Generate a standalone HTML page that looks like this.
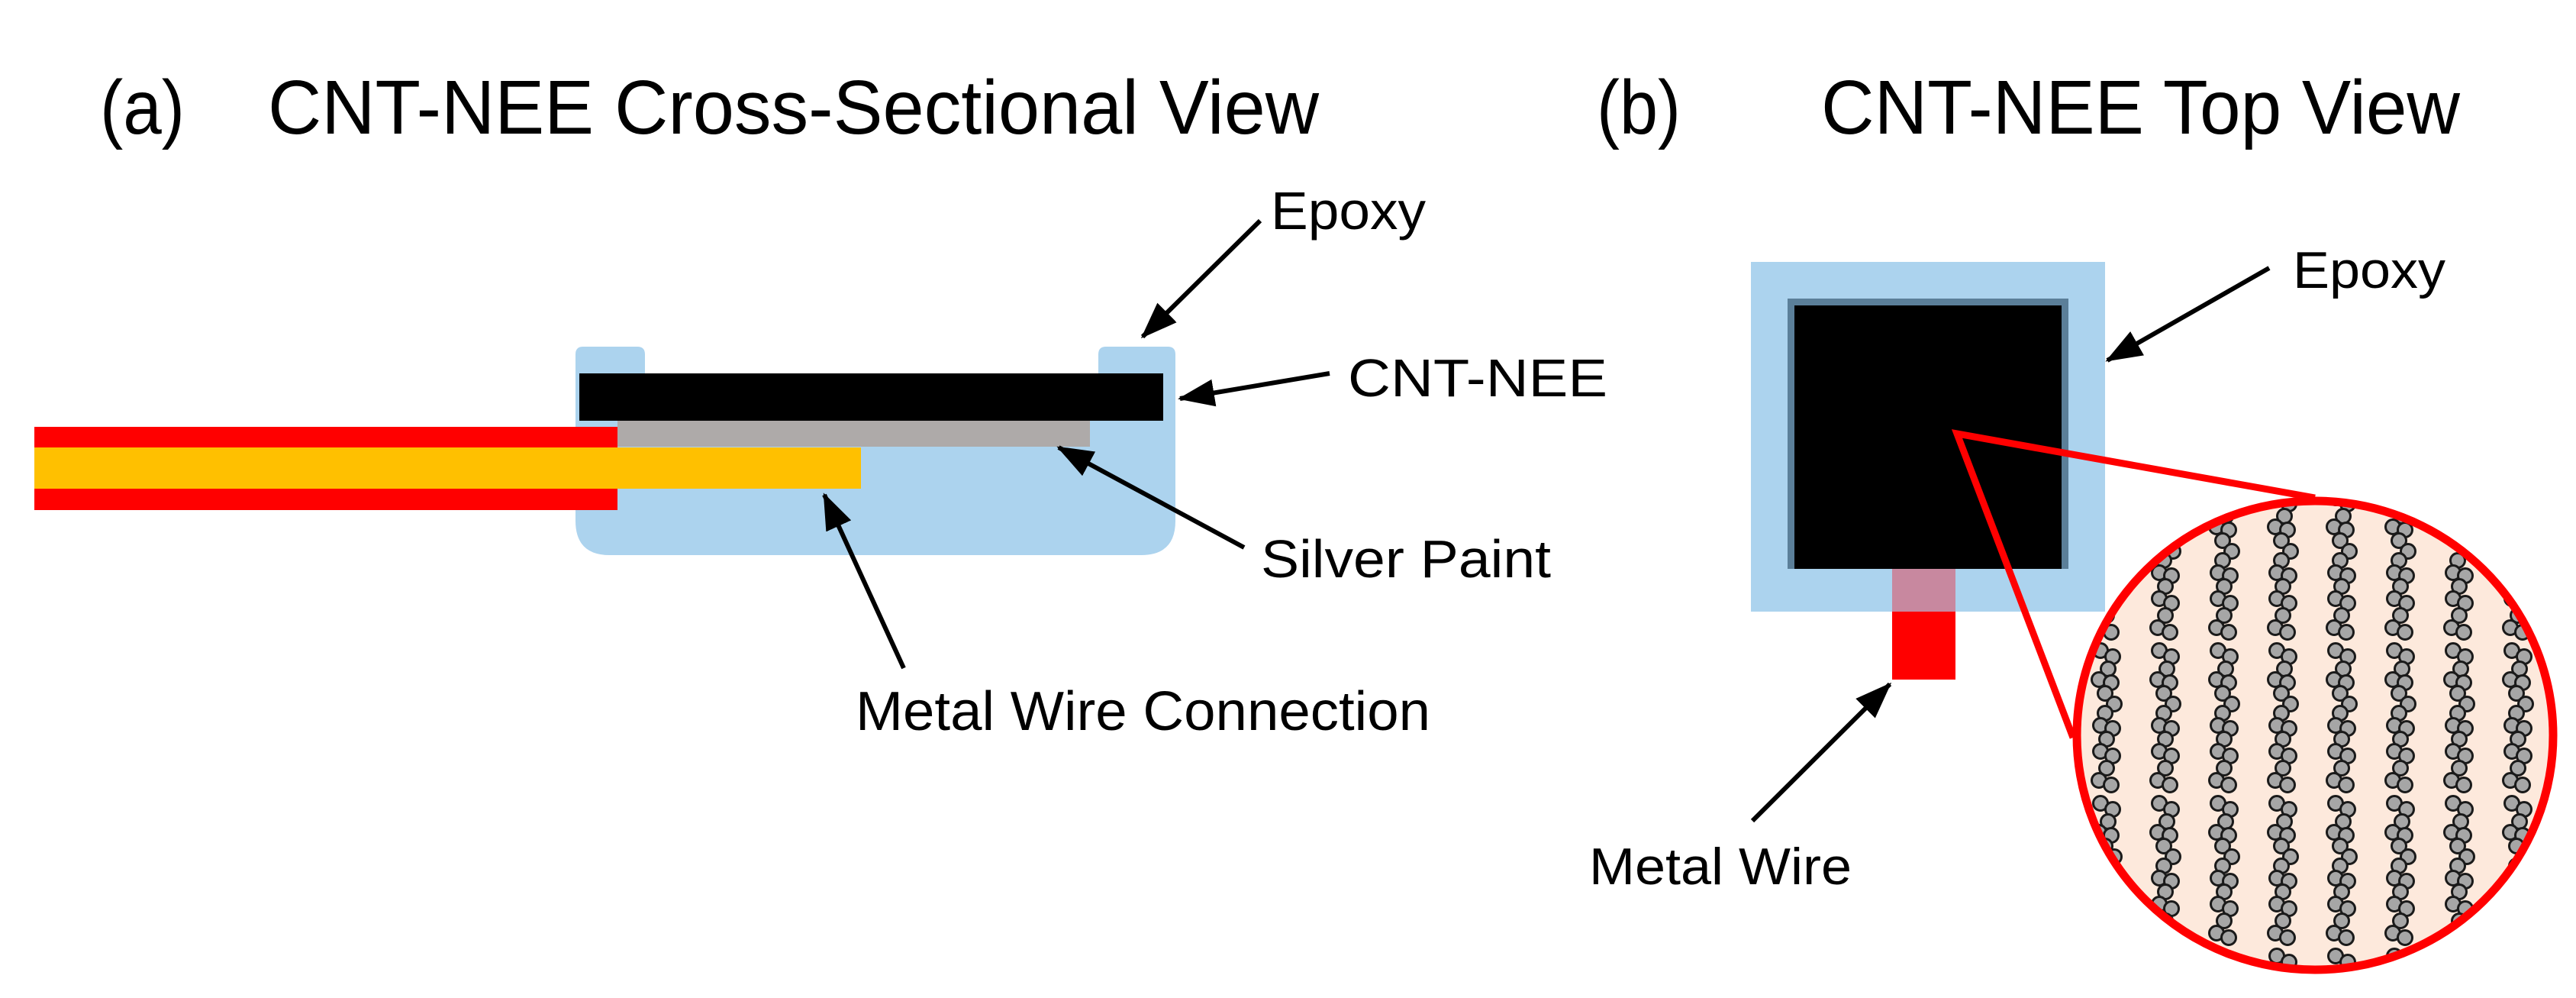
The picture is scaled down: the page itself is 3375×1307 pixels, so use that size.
<!DOCTYPE html>
<html><head><meta charset="utf-8"><style>
html,body{margin:0;padding:0;background:#fff;}
svg{display:block;}
text{font-family:"Liberation Sans",Arial,sans-serif;fill:#000;}
</style></head><body>
<svg width="3375" height="1307" viewBox="0 0 3375 1307" xmlns="http://www.w3.org/2000/svg">
<defs>
<marker id="ah" markerWidth="8" markerHeight="6" refX="7.5" refY="3" orient="auto" markerUnits="strokeWidth">
<path d="M0,0 L8,3 L0,6 Z" fill="#000"/>
</marker>
<pattern id="cnt" x="2722" y="640" width="77" height="200" patternUnits="userSpaceOnUse">
<g fill="#a6a6a6" stroke="#1a1a1a" stroke-width="3">
<circle cx="30" cy="12" r="9.5"/><circle cx="46" cy="20" r="9.5"/><circle cx="40" cy="36" r="9.5"/>
<circle cx="28" cy="50" r="9.5"/><circle cx="44" cy="54" r="9.5"/><circle cx="36" cy="68" r="9.5"/>
<circle cx="48" cy="82" r="9.5"/><circle cx="36" cy="94" r="9.5"/><circle cx="30" cy="110" r="9.5"/>
<circle cx="46" cy="114" r="9.5"/><circle cx="38" cy="128" r="9.5"/><circle cx="30" cy="144" r="9.5"/>
<circle cx="46" cy="150" r="9.5"/><circle cx="38" cy="166" r="9.5"/><circle cx="28" cy="182" r="9.5"/>
<circle cx="44" cy="188" r="9.5"/>
</g>
</pattern>
<clipPath id="cc"><ellipse cx="3033" cy="963" rx="312" ry="307"/></clipPath>
</defs>

<!-- Titles -->
<text x="131" y="175" font-size="100" textLength="111" lengthAdjust="spacingAndGlyphs">(a)</text>
<text x="351" y="175" font-size="100" textLength="1377" lengthAdjust="spacingAndGlyphs">CNT-NEE Cross-Sectional View</text>
<text x="2092" y="175" font-size="100" textLength="110" lengthAdjust="spacingAndGlyphs">(b)</text>
<text x="2386" y="175" font-size="100" textLength="837" lengthAdjust="spacingAndGlyphs">CNT-NEE Top View</text>

<!-- Cross section -->
<path d="M754,464 q0,-10 10,-10 h71 q10,0 10,10 V490 H1439 V464 q0,-10 10,-10 h81 q10,0 10,10 V682 q0,45 -45,45 H799 q-45,0 -45,-45 Z" fill="#acd3ee"/>
<rect x="759" y="489" width="765" height="62" fill="#000"/>
<rect x="809" y="551" width="619" height="34" fill="#aeaaa9"/>
<rect x="45" y="559" width="764" height="109" fill="#ff0000"/>
<rect x="45" y="586" width="1083" height="54" fill="#ffc000"/>

<g stroke="#000" stroke-width="6" fill="none" marker-end="url(#ah)">
<line x1="1651" y1="289" x2="1497" y2="441"/>
<line x1="1742" y1="489" x2="1546" y2="522"/>
<line x1="1630" y1="717" x2="1387" y2="586"/>
<line x1="1184" y1="875" x2="1080" y2="648"/>
<line x1="2973" y1="351" x2="2761" y2="472"/>
<line x1="2296" y1="1075" x2="2476" y2="896"/>
</g>

<text x="1665" y="300" font-size="70" textLength="203" lengthAdjust="spacingAndGlyphs">Epoxy</text>
<text x="1766" y="519" font-size="70" textLength="340" lengthAdjust="spacingAndGlyphs">CNT-NEE</text>
<text x="1652" y="756" font-size="70" textLength="380" lengthAdjust="spacingAndGlyphs">Silver Paint</text>
<text x="1121" y="956" font-size="72" textLength="753" lengthAdjust="spacingAndGlyphs">Metal Wire Connection</text>

<!-- Top view -->
<rect x="2294" y="343" width="464" height="458" fill="#acd3ee"/>
<rect x="2342" y="391" width="368" height="354" fill="#5b7f99"/>
<rect x="2351" y="400" width="350" height="345" fill="#000"/>
<rect x="2479" y="745" width="83" height="56" fill="#c8889f"/>
<rect x="2479" y="801" width="83" height="89" fill="#ff0000"/>
<text x="3004" y="377" font-size="68" textLength="200" lengthAdjust="spacingAndGlyphs">Epoxy</text>
<text x="2082" y="1158" font-size="68" textLength="344" lengthAdjust="spacingAndGlyphs">Metal Wire</text>

<!-- Magnified circle -->
<ellipse cx="3033" cy="963" rx="312" ry="307" fill="#fde9dc"/>
<rect x="2700" y="640" width="670" height="640" fill="url(#cnt)" clip-path="url(#cc)"/>
<polyline points="3033,652 2564,568 2716,966" fill="none" stroke="#ff0000" stroke-width="9" stroke-linejoin="miter"/>
<ellipse cx="3033" cy="963" rx="312" ry="307" fill="none" stroke="#ff0000" stroke-width="11"/>
</svg>
</body></html>
